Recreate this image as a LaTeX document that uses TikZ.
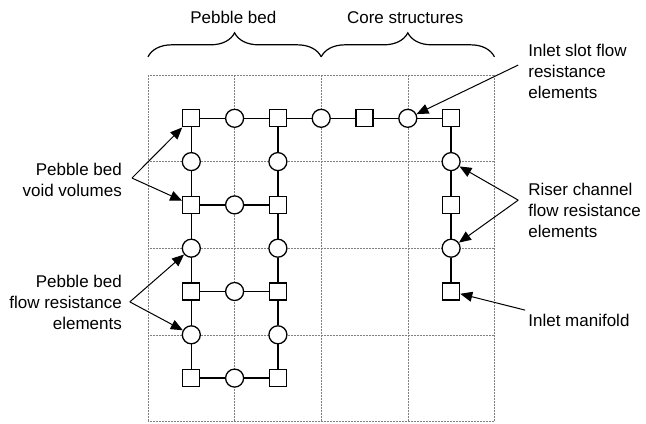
\documentclass[tikz,border=0pt]{standalone}
\usepackage{fontspec}
\setmainfont{Liberation Sans}
\usetikzlibrary{arrows.meta, decorations.pathreplacing}

\tikzset{
  gridline/.style={gray, densely dotted, line width=0.5pt},
  vol/.style={draw, fill=white, rectangle, minimum size=17pt, inner sep=0pt, line width=1.3pt},
  res/.style={draw, fill=white, circle, minimum size=18pt, inner sep=0pt, line width=1.3pt},
  link/.style={line width=1.3pt},
  lbl/.style={font=\fontsize{17}{21}\selectfont, inner sep=0pt},
  pointer/.style={line width=1pt, -{Triangle[length=12pt, width=10pt]}},
}

\begin{document}
\begin{tikzpicture}[x=43.3pt, y=-43.3pt]
  \useasboundingbox (-3.418,-1.732) rectangle (11.501,8.037);

  % 4x4 cell grid
  \foreach \i in {0,2,...,8} {
    \draw[gridline] (\i,0) -- (\i,8);
    \draw[gridline] (0,\i) -- (8,\i);
  }

  % volumes (squares) and flow resistances (circles)
  \foreach \x/\y in {1/1,3/1,5/1,7/1,1/3,3/3,7/3,1/5,3/5,7/5,1/7,3/7}
    \node[vol] (n\x\y) at (\x,\y) {};
  \foreach \x/\y in {2/1,4/1,6/1,1/2,3/2,7/2,2/3,1/4,3/4,7/4,2/5,1/6,3/6,2/7}
    \node[res] (n\x\y) at (\x,\y) {};

  % links
  \draw[link] (n11) -- (n21) -- (n31) -- (n41) -- (n51) -- (n61) -- (n71);
  \draw[link] (n11) -- (n12) -- (n13) -- (n14) -- (n15) -- (n16) -- (n17);
  \draw[link] (n31) -- (n32) -- (n33) -- (n34) -- (n35) -- (n36) -- (n37);
  \draw[link] (n71) -- (n72) -- (n73) -- (n74) -- (n75);
  \foreach \y in {3,5,7}
    \draw[link] (n1\y) -- (n2\y) -- (n3\y);

  % braces
  \draw[line width=1.2pt, decorate, decoration={brace, amplitude=24pt}] (0,-0.42) -- (4,-0.42);
  \draw[line width=1.2pt, decorate, decoration={brace, amplitude=24pt}] (4,-0.42) -- (8,-0.42);
  \node[lbl] (bed) at (1.97,-1.32) {Pebble bed};
  \node[lbl] (core) at (5.94,-1.32) {Core structures};

  % labels
  \node[lbl, anchor=west, align=left] (slot) at (8.78,-0.09) {Inlet slot flow\\resistance\\elements};
  \node[lbl, anchor=west, align=left] (riser) at (8.78,3.12) {Riser channel\\flow resistance\\elements};
  \node[lbl, anchor=west, align=left] (manifold) at (8.78,5.66) {Inlet manifold};
  \node[lbl, anchor=east, align=right] (void) at (-0.6,2.42) {Pebble bed\\void volumes};
  \node[lbl, anchor=east, align=right] (flow) at (-0.6,5.26) {Pebble bed\\flow resistance\\elements};

  \coordinate (slotp) at (8.55,-0.23);
  \coordinate (riserp) at (8.55,2.89);
  \coordinate (manifoldp) at (8.71,5.43);
  \coordinate (voidp) at (-0.37,2.38);
  \coordinate (flowp) at (-0.42,5.24);

  \draw[pointer] (slotp) -- (n61);
  \draw[pointer] (riserp) -- (n72);
  \draw[pointer] (riserp) -- (n74);
  \draw[pointer] (manifoldp) -- (n75);
  \draw[pointer] (voidp) -- (n11);
  \draw[pointer] (voidp) -- (n13);
  \draw[pointer] (flowp) -- (n14);
  \draw[pointer] (flowp) -- (n16);
\end{tikzpicture}
\end{document}
